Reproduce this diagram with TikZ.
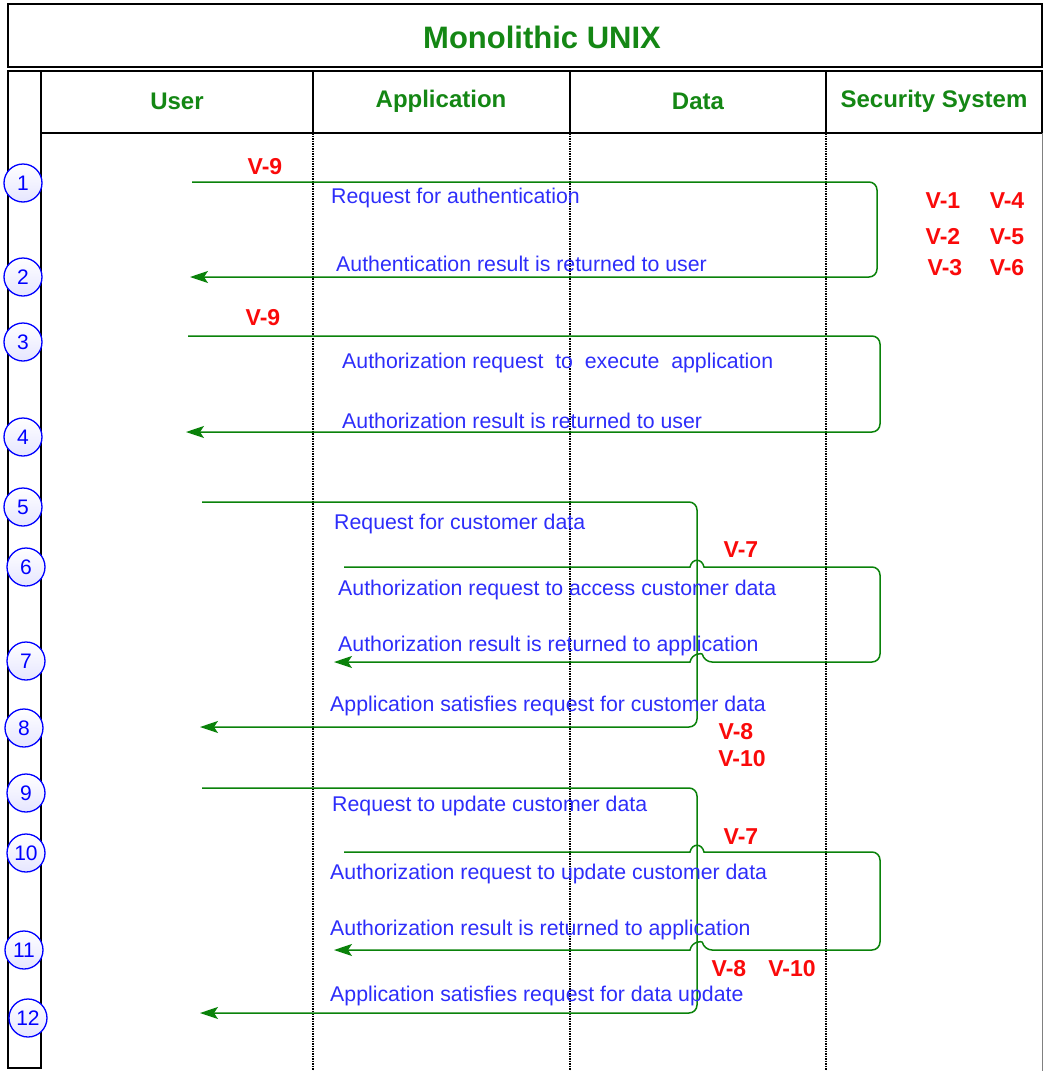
\documentclass[tikz,border=0pt]{standalone}
\usepackage{fontspec}
\setmainfont{Liberation Sans}
\usetikzlibrary{arrows.meta,calc}
\definecolor{titlegreen}{RGB}{20,135,20}
\definecolor{msggreen}{RGB}{10,130,10}
\definecolor{txtblue}{RGB}{45,45,250}
\definecolor{vred}{RGB}{250,10,10}
\tikzset{
  frame/.style={line width=2.8pt, black},
  lifeline/.style={dash pattern=on 1.5pt off 1pt, line width=1.2pt},
  msg/.style={msggreen, line width=1.5pt},
  tip/.style={-{Stealth[length=18pt,width=12pt,inset=4pt]}},
  head/.style={text=titlegreen, font=\fontsize{24}{28}\selectfont\bfseries},
  txt/.style={anchor=west, inner sep=0pt, text=txtblue, font=\fontsize{21.3}{25}\selectfont},
  vuln/.style={inner sep=0pt, text=vred, font=\fontsize{23}{27}\selectfont\bfseries},
  num/.style={circle, draw=blue, line width=1.3pt, top color=white, bottom color=blue!10,
    minimum size=38pt, inner sep=0pt, text=blue, font=\fontsize{21}{24}\selectfont},
}
\begin{document}
\begin{tikzpicture}[x=1pt, y=-1pt]
    \useasboundingbox (0,0) rectangle (1045,1071);
    % table frame
    \draw[frame] (8,4) rectangle (1042,67);
    \draw[frame] (41,71) rectangle (1042,133);
    \foreach \x in {313,570,826} {
        \draw[frame] (\x,71) -- (\x,133);
        \draw[lifeline] (\x,133) -- (\x,1071);
        }
    \draw[frame] (8,71) rectangle (41,1068);
    \draw[gray, line width=1pt] (1042,133) -- (1042,1071);

    \node[head, font=\fontsize{31}{36}\selectfont\bfseries] (title) at (542,37) {Monolithic UNIX};
    \node[head] (user) at (177,101) {User};
    \node[head] (app) at (441,101) {Application};
    \node[head] (data) at (698,101) {Data};
    \node[head] (sec) at (934,101) {Security System};

    % step numbers
    \foreach \n/\x/\y in {1/23/183, 2/23/277, 3/23/342, 4/23/437, 5/23/507, 6/26/567,
                          7/26/661, 8/24/728, 9/26/793, 10/26/853, 11/24/950, 12/28/1018} {
        \node[num] (n\n) at (\x,\y) {\n};
        }

    % message loops
    \coordinate (a1) at (192,182);
    \coordinate (s1) at (877,277);
    \coordinate (b1) at (190,277);
    \draw[msg, tip, rounded corners=8pt] (a1) -| (s1) -- (b1);

    \coordinate (a3) at (188,336);
    \coordinate (s3) at (880,432);
    \coordinate (b3) at (186,432);
    \draw[msg, tip, rounded corners=8pt] (a3) -| (s3) -- (b3);

    \coordinate (a5) at (202,502);
    \coordinate (s5) at (697,727);
    \coordinate (b5) at (200,727);
    \draw[msg, tip, rounded corners=8pt] (a5) -| (s5) -- (b5);

    \coordinate (a6) at (344,567);
    \coordinate (s6) at (880,662);
    \coordinate (b6) at (334,662);
    \draw[msg, tip] (a6) -- ($(a6 -| s5)+(-7,0)$) .. controls +(2,-9) and +(-2,-9) .. ($(a6 -| s5)+(7,0)$)
        [rounded corners=8pt] -| (s6) -- ($(s6 -| s5)+(7,0)$)
        [sharp corners] .. controls +(-2,-9) and +(2,-9) .. ($(s6 -| s5)+(-7,0)$) -- (b6);

    \coordinate (a9) at (202,788);
    \coordinate (s9) at (697,1013);
    \coordinate (b9) at (200,1013);
    \draw[msg, tip, rounded corners=8pt] (a9) -| (s9) -- (b9);

    \coordinate (a10) at (344,852);
    \coordinate (s10) at (880,950);
    \coordinate (b10) at (334,950);
    \draw[msg, tip] (a10) -- ($(a10 -| s9)+(-7,0)$) .. controls +(2,-9) and +(-2,-9) .. ($(a10 -| s9)+(7,0)$)
        [rounded corners=8pt] -| (s10) -- ($(s10 -| s9)+(7,0)$)
        [sharp corners] .. controls +(-2,-9) and +(2,-9) .. ($(s10 -| s9)+(-7,0)$) -- (b10);

    % message texts
    \node[txt] (t1) at (331,198) {Request for authentication};
    \node[txt] (t2) at (336,264) {Authentication result is returned to user};
    \node[txt] (t3) at (342,363) {Authorization request~ to~ execute~ application};
    \node[txt] (t4) at (342,421) {Authorization result is returned to user};
    \node[txt] (t5) at (334,524) {Request for customer data};
    \node[txt] (t6) at (338,590) {Authorization request to access customer data};
    \node[txt] (t7) at (338,646) {Authorization result is returned to application};
    \node[txt] (t8) at (330,706) {Application satisfies request for customer data};
    \node[txt] (t9) at (332,806) {Request to update customer data};
    \node[txt] (t10) at (330,874) {Authorization request to update customer data};
    \node[txt] (t11) at (330,930) {Authorization result is returned to application};
    \node[txt] (t12) at (330,996) {Application satisfies request for data update};

    % vulnerability labels
    \node[vuln] (v9a) at (265,167) {V-9};
    \node[vuln] (v9b) at (263,318) {V-9};
    \node[vuln] (v1) at (943,201) {V-1};
    \node[vuln] (v4) at (1007,201) {V-4};
    \node[vuln] (v2) at (943,236) {V-2};
    \node[vuln] (v5) at (1007,237) {V-5};
    \node[vuln] (v3) at (945,268) {V-3};
    \node[vuln] (v6) at (1007,268) {V-6};
    \node[vuln] (v7a) at (741,550) {V-7};
    \node[vuln] (v8a) at (736,732) {V-8};
    \node[vuln] (v10a) at (742,759) {V-10};
    \node[vuln] (v7b) at (741,837) {V-7};
    \node[vuln] (v8b) at (729,969) {V-8};
    \node[vuln] (v10b) at (792,969) {V-10};
\end{tikzpicture}
\end{document}
